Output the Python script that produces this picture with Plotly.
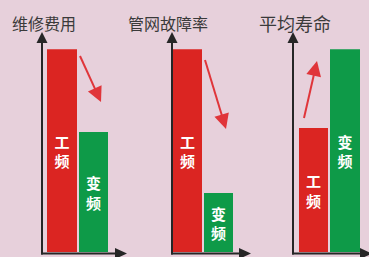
import math
import plotly.graph_objects as go

# ---------------- data ----------------
categories = ["工频", "变频"]
panel_titles = ["维修费用", "管网故障率", "平均寿命"]
maintenance_cost = [100, 59]
pipe_failure_rate = [100, 29]
average_lifespan = [61, 100]
series = [maintenance_cost, pipe_failure_rate, average_lifespan]

# ---------------- style ----------------
W, H = 369, 257
BG = "#E7D0DB"
BAR_COLORS = ["#DB2522", "#0E9A48"]
AXIS_COLOR = "#262626"
TREND_COLOR = "#E0353A"
TITLE_FONT = "Noto Sans CJK SC"


def px(x):
    return x / W


def py(y):
    return 1 - y / H


# per panel layout (pixel geometry)
panels = [
    dict(axis_x=42, x_tip=127, xrange=[-0.645, 2.065], title_x=43.5, title_size=16,
         trend=((80, 56), (101, 102))),
    dict(axis_x=172, x_tip=251, xrange=[-0.5, 2.05], title_x=167.5, title_size=16,
         trend=((205, 60), (226, 129))),
    dict(axis_x=293, x_tip=372, xrange=[-0.65, 1.76], title_x=295, title_size=18,
         trend=((304, 118), (317, 61))),
]
BASE_Y = 253.5
BAR_BOTTOM = 252.5
BAR_TOP = 49.3
Y_TIP = 32

fig = go.Figure()
layout = dict(
    width=W, height=H,
    margin=dict(l=0, r=0, t=0, b=0),
    paper_bgcolor=BG, plot_bgcolor="rgba(0,0,0,0)",
    showlegend=False, bargap=0,
)
shapes = []
annotations = []

for i, (vals, title, p) in enumerate(zip(series, panel_titles, panels)):
    sfx = "" if i == 0 else str(i + 1)
    fig.add_trace(go.Bar(
        x=categories, y=vals,
        xaxis="x" + sfx, yaxis="y" + sfx,
        width=0.95,
        marker=dict(color=BAR_COLORS, line=dict(width=0)),
        text=["<br>".join(c) for c in categories],
        textposition="inside", insidetextanchor="middle", textangle=0,
        textfont=dict(color="white", size=15, family=TITLE_FONT, weight="bold"),
        hoverinfo="skip", cliponaxis=False,
    ))
    layout["xaxis" + sfx] = dict(
        domain=[px(p["axis_x"]), min(1.0, px(p["x_tip"]))],
        range=p["xrange"], visible=False, fixedrange=True,
        anchor="y" + sfx,
    )
    layout["yaxis" + sfx] = dict(
        domain=[py(BAR_BOTTOM), py(BAR_TOP)],
        range=[0, 100], visible=False, fixedrange=True,
        anchor="x" + sfx,
    )

    ax = p["axis_x"]
    # y axis line + arrowhead
    shapes.append(dict(type="line", xref="paper", yref="paper",
                       x0=px(ax), x1=px(ax), y0=py(BASE_Y + 1), y1=py(Y_TIP + 9),
                       line=dict(color=AXIS_COLOR, width=2)))
    shapes.append(dict(type="path", xref="paper", yref="paper",
                       path=f"M {px(ax-5.5)},{py(Y_TIP+11)} L {px(ax)},{py(Y_TIP)} L {px(ax+5.5)},{py(Y_TIP+11)} Z",
                       fillcolor=AXIS_COLOR, line=dict(width=0)))
    # x axis line + arrowhead
    xt = p["x_tip"]
    shapes.append(dict(type="line", xref="paper", yref="paper",
                       x0=px(ax - 1), x1=px(xt - 9), y0=py(BASE_Y), y1=py(BASE_Y),
                       line=dict(color=AXIS_COLOR, width=2)))
    shapes.append(dict(type="path", xref="paper", yref="paper",
                       path=f"M {px(xt-12)},{py(BASE_Y-5.5)} L {px(xt)},{py(BASE_Y)} L {px(xt-12)},{py(BASE_Y+5.5)} Z",
                       fillcolor=AXIS_COLOR, line=dict(width=0)))

    # trend arrow
    (tx, ty), (hx, hy) = p["trend"]
    dx, dy = hx - tx, hy - ty
    L = math.hypot(dx, dy)
    ux, uy = dx / L, dy / L
    hl, hw = 15, 7.5
    bx, by = hx - hl * ux, hy - hl * uy
    nx, ny = -uy, ux
    shapes.append(dict(type="line", xref="paper", yref="paper",
                       x0=px(tx), y0=py(ty), x1=px(bx + 2 * ux), y1=py(by + 2 * uy),
                       line=dict(color=TREND_COLOR, width=2)))
    shapes.append(dict(type="path", xref="paper", yref="paper",
                       path=(f"M {px(bx + hw*nx)},{py(by + hw*ny)} L {px(hx)},{py(hy)} "
                             f"L {px(bx - hw*nx)},{py(by - hw*ny)} Z"),
                       fillcolor=TREND_COLOR, line=dict(width=0)))

    annotations.append(dict(
        text=title, xref="paper", yref="paper",
        x=px(p["title_x"]), y=py(23), xanchor="center", yanchor="middle",
        showarrow=False,
        font=dict(family=TITLE_FONT, size=p["title_size"], color="#3A3A3A"),
    ))

layout["shapes"] = shapes
layout["annotations"] = annotations
fig.update_layout(**layout)

fig.write_html(
    "out.html",
    config={"displayModeBar": False},
    post_script="document.body.style.margin='0';document.body.style.overflow='hidden';document.body.style.background='" + BG + "';",
)
